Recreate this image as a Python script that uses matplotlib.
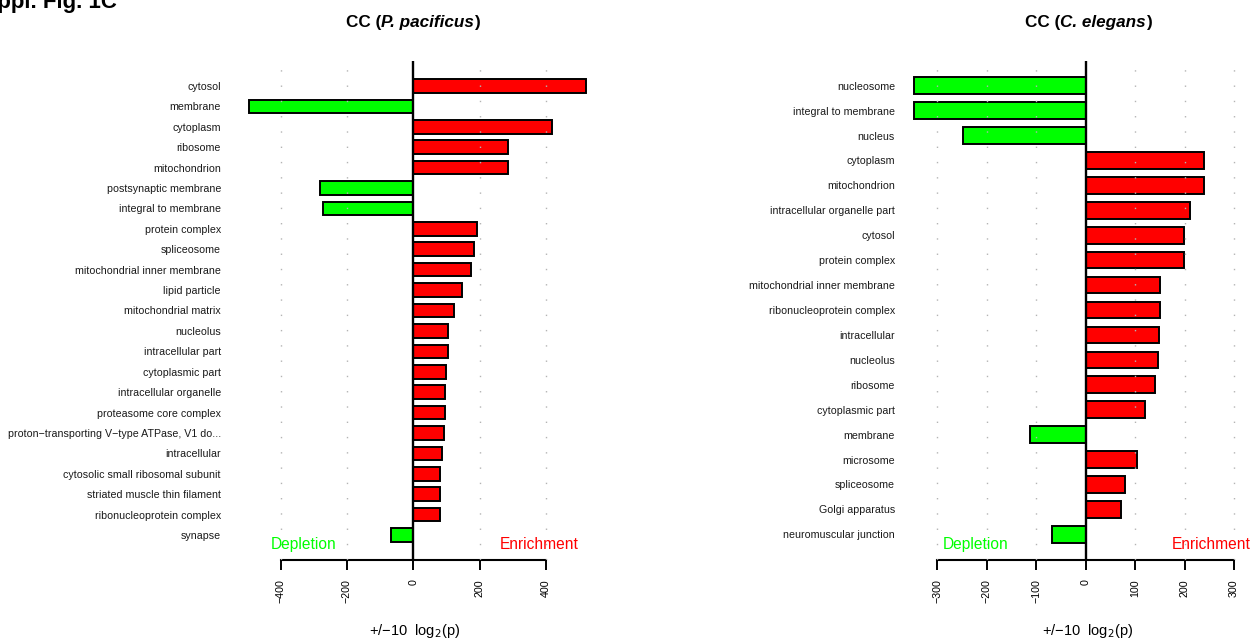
import matplotlib
matplotlib.use("Agg")
import matplotlib.pyplot as plt

plt.rcParams["font.family"] = ["Liberation Sans", "DejaVu Sans"]

# GO cellular component terms, signed score (+/-10 log2 p)
pp_terms = [
    "cytosol", "membrane", "cytoplasm", "ribosome", "mitochondrion",
    "postsynaptic membrane", "integral to membrane", "protein complex",
    "spliceosome", "mitochondrial inner membrane", "lipid particle",
    "mitochondrial matrix", "nucleolus", "intracellular part",
    "cytoplasmic part", "intracellular organelle", "proteasome core complex",
    "proton\u2212transporting V\u2212type ATPase, V1 do...", "intracellular",
    "cytosolic small ribosomal subunit", "striated muscle thin filament",
    "ribonucleoprotein complex", "synapse",
]
pp_scores = [
    521, -495, 417, 285, 285,
    -280, -272, 192,
    184, 175, 148,
    124, 105, 105,
    100, 95, 95,
    94, 86,
    81, 81,
    79, -67,
]

ce_terms = [
    "nucleosome", "integral to membrane", "nucleus", "cytoplasm",
    "mitochondrion", "intracellular organelle part", "cytosol",
    "protein complex", "mitochondrial inner membrane",
    "ribonucleoprotein complex", "intracellular", "nucleolus", "ribosome",
    "cytoplasmic part", "membrane", "microsome", "spliceosome",
    "Golgi apparatus", "neuromuscular junction",
]
ce_scores = [
    -348, -348, -249, 239,
    239, 210, 198,
    198, 151,
    151, 148, 147, 140,
    120, -113, 104, 80,
    72, -68,
]

pp_ticks = [-400, -200, 0, 200, 400]
ce_ticks = [-300, -200, -100, 0, 100, 200, 300]

W, H = 1253, 638
fig = plt.figure(figsize=(W / 100, H / 100), dpi=100)

GREEN = "#00FF00"
RED = "#FF0000"


def add_px_axes(x0, x1, y0, y1):
    return fig.add_axes([x0 / W, 1 - y1 / H, (x1 - x0) / W, (y1 - y0) / H])


def panel(ax, terms, scores, ticks, xlim, ypad, dep_x, enr_x):
    n = len(terms)
    pos = list(range(n))
    colors = [RED if s > 0 else GREEN for s in scores]
    ax.barh(pos, scores, height=0.667, color=colors, edgecolor="black",
            linewidth=1.4, zorder=2)
    for t in ticks:
        if t != 0:
            ax.axvline(t, color="#b4b4b4", lw=1.0, ls=(0, (1, 10)), zorder=3)
    ax.axvline(0, color="black", lw=1.7, zorder=4)
    ax.set_xlim(*xlim)
    ax.set_ylim(n - 1 + ypad[1], -ypad[0])
    ax.set_yticks(pos)
    ax.set_yticklabels(terms, fontsize=7.7, color="#1a1a1a")
    ax.tick_params(axis="y", length=0, pad=5.8)
    ax.set_xticks(ticks)
    ax.set_xticklabels([str(t).replace("-", "\u2212") for t in ticks],
                       rotation=90, fontsize=7.7, va="top")
    ax.tick_params(axis="x", length=7.2, width=1.4, pad=6.5, direction="out")
    for s in ("top", "right", "left"):
        ax.spines[s].set_visible(False)
    ax.spines["bottom"].set_bounds(ticks[0], ticks[-1])
    ax.spines["bottom"].set_linewidth(1.5)
    ax.patch.set_alpha(0)
    tr = ax.get_xaxis_transform()
    ax.text(dep_x, 0.032, "Depletion", color=GREEN, fontsize=11.2,
            ha="left", va="center", transform=tr)
    ax.text(enr_x, 0.032, "Enrichment", color=RED, fontsize=11.2,
            ha="right", va="center", transform=tr)


# left panel: zero at x=413.3 px, 0.3317 px per unit
axL = add_px_axes(229, 600, 61, 560)
panel(axL, pp_terms, pp_scores, pp_ticks,
      ((229 - 413.3) / 0.3317, (600 - 413.3) / 0.3317),
      (1.225, 1.225), -431, 498)

# right panel: zero at x=1085.7 px, 0.4945 px per unit
axR = add_px_axes(903, 1253, 61, 560)
panel(axR, ce_terms, ce_scores, ce_ticks,
      ((903 - 1085.7) / 0.4945, (1253 - 1085.7) / 0.4945),
      (0.99, 1.03), -289, 333)

xlabel = "+/\u221210  log$_2$(p)"
fig.text(415 / W, 1 - 631 / H, xlabel, fontsize=10.5, ha="center", va="center")
fig.text(1088 / W, 1 - 631 / H, xlabel, fontsize=10.5, ha="center", va="center")


def mixed_title(cx, cy, parts, size=12.3):
    renderer = fig.canvas.get_renderer()
    objs = []
    for txt, style in parts:
        o = fig.text(0, 1 - cy / H, txt, fontsize=size, fontweight="bold",
                     style=style, ha="left", va="center")
        objs.append(o)
    widths = [o.get_window_extent(renderer).width for o in objs]
    x = cx - sum(widths) / 2
    for o, w in zip(objs, widths):
        o.set_x(x / W)
        x += w


mixed_title(413, 23, [("CC (", "normal"), ("P. pacificus", "italic"), (")", "normal")])
mixed_title(1088, 23, [("CC (", "normal"), ("C. elegans", "italic"), (")", "normal")])

fig.text(117 / W, 1 - 8 / H, "Suppl. Fig. 1C", fontsize=16, fontweight="bold",
         ha="right", va="baseline")

fig.savefig("out.png", dpi=100)
